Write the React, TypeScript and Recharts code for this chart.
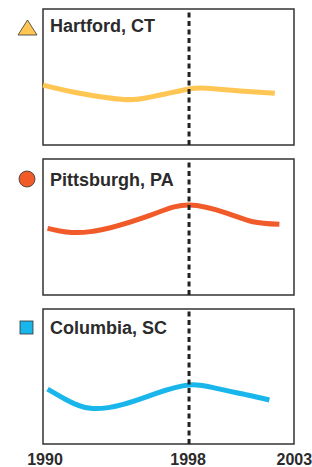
import {
  Line,
  LineChart,
  ReferenceArea,
  ReferenceLine,
  XAxis,
  YAxis,
} from "recharts";

// Three small multiples sharing one time axis, with a marker line at 1998.
const splitYear = 1998;
const tickYears = [1990, 1998, 2003];
const xDomain: [number, number] = [1990, 2003.75];

const hartfordYears = [1990, 1992, 1994.4, 1996, 1998, 1999, 2000.8, 2002.7];
const hartfordIndex = [44, 38, 33.5, 35.6, 41.2, 41.7, 39.7, 38];

const pittsburghYears = [1990.25, 1992.6, 1995.9, 1998, 2000.1, 2001.5, 2002.95];
const pittsburghIndex = [49, 46.6, 58.8, 66.2, 60.1, 53.9, 52];

const columbiaYears = [1990.25, 1991.3, 1992.6, 1994.4, 1996.2, 1998, 1999.5, 2001.2, 2002.4];
const columbiaIndex = [40.7, 32.6, 26.4, 29.4, 37.5, 43.7, 41.2, 36.3, 32.6];

const toRows = (years: number[], values: number[]) =>
  years.map((year, i) => ({ year, index: values[i] }));

const FONT = "'Liberation Sans', Arial, Helvetica, sans-serif";
const INK = "#2b2b2b";
const W = 312;

type Marker = "triangle" | "circle" | "square";

function MarkerIcon({ kind, color, cy }: { kind: Marker; color: string; cy: number }) {
  const cx = 27.5;
  if (kind === "triangle") {
    const pts = `${cx - 9.5},${cy + 7.5} ${cx + 9.5},${cy + 7.5} ${cx},${cy - 7.5}`;
    return <polygon points={pts} fill={color} stroke="#333" strokeWidth={0.8} />;
  }
  if (kind === "circle") {
    return <circle cx={cx - 0.5} cy={cy} r={8} fill={color} stroke="#333" strokeWidth={0.8} />;
  }
  return <rect x={cx - 7.5} y={cy - 6.5} width={13} height={13} fill={color} stroke="#333" strokeWidth={0.8} />;
}

function YearTick(props: any) {
  const { x, y, payload, index } = props;
  // the outer labels sit centred on the frame edges
  const dx = index === tickYears.length - 1 ? 14 : index === 0 ? 2 : -1;
  return (
    <text
      x={x + dx}
      y={y + 21}
      textAnchor="middle"
      fontFamily={FONT}
      fontWeight="bold"
      fontSize={16}
      fill={INK}
    >
      {payload.value}
    </text>
  );
}

type PanelProps = {
  name: string;
  color: string;
  marker: Marker;
  rows: { year: number; index: number }[];
  top: number;
  height: number;
  markerY: number;
  titleY: number;
  showAxis?: boolean;
};

function Panel({ name, color, marker, rows, top, height, markerY, titleY, showAxis }: PanelProps) {
  return (
    <div style={{ position: "absolute", left: 0, top, width: W, height }}>
      <LineChart
        width={W}
        height={height}
        data={rows}
        margin={{ top: 9, right: 18, bottom: showAxis ? 0 : 5, left: 43 }}
      >
        <XAxis
          type="number"
          dataKey="year"
          domain={xDomain}
          ticks={tickYears}
          hide={!showAxis}
          height={23}
          axisLine={false}
          tickLine={false}
          tickSize={0}
          tickMargin={0}
          interval={0}
          tick={<YearTick />}
        />
        <YAxis hide domain={[0, 100]} />
        <ReferenceArea
          x1={xDomain[0]}
          x2={xDomain[1]}
          y1={0}
          y2={100}
          fill="none"
          fillOpacity={0}
          stroke="#333"
          strokeWidth={1.5}
        />
        <Line
          name={name}
          type="natural"
          dataKey="index"
          stroke={color}
          strokeWidth={5}
          dot={false}
          strokeLinecap="butt"
          isAnimationActive={false}
        />
        <ReferenceLine x={splitYear} stroke="#222" strokeWidth={3} strokeDasharray="5 3.5" />
      </LineChart>
      <svg
        width={200}
        height={44}
        style={{ position: "absolute", left: 0, top: 0, pointerEvents: "none" }}
      >
        <MarkerIcon kind={marker} color={color} cy={markerY} />
        <text x={50} y={titleY} fontFamily={FONT} fontWeight="bold" fontSize={18} fill={INK}>
          {name}
        </text>
      </svg>
    </div>
  );
}

export default function App() {
  return (
    <div
      style={{
        position: "absolute",
        left: 0,
        top: 0,
        width: W,
        height: 467,
        background: "#fff",
      }}
    >
      <Panel
        name="Hartford, CT"
        color="#ffc653"
        marker="triangle"
        rows={toRows(hartfordYears, hartfordIndex)}
        top={0}
        height={150}
        markerY={27.5}
        titleY={32}
      />
      <Panel
        name="Pittsburgh, PA"
        color="#f15a29"
        marker="circle"
        rows={toRows(pittsburghYears, pittsburghIndex)}
        top={150}
        height={150}
        markerY={29}
        titleY={35.5}
      />
      <Panel
        name="Columbia, SC"
        color="#18b6ea"
        marker="square"
        rows={toRows(columbiaYears, columbiaIndex)}
        top={300}
        height={167}
        markerY={27.5}
        titleY={33.5}
        showAxis
      />
    </div>
  );
}
